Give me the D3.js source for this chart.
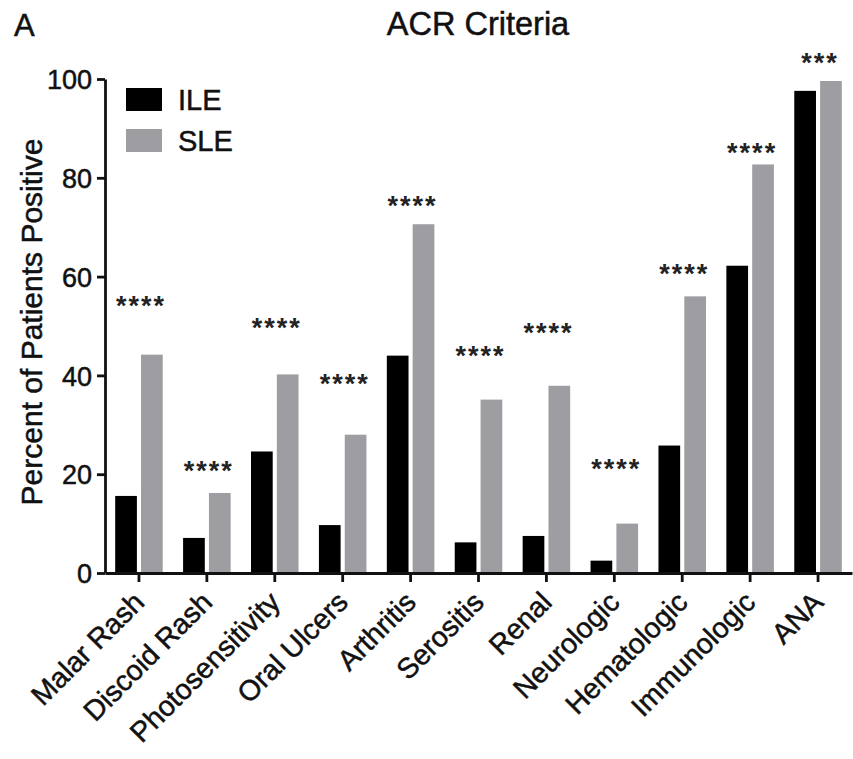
<!DOCTYPE html>
<html>
<head>
<meta charset="utf-8">
<script src="https://cdn.jsdelivr.net/npm/d3@7"></script>
<style>
  body { margin: 0; background: #fff; }
  svg text { font-family: "Liberation Sans", Arial, sans-serif; fill: #111; stroke: #111; stroke-width: 0.5px; }
</style>
</head>
<body>
<div id="chart"></div>
<script>
// chart data
var categories = ["Malar Rash", "Discoid Rash", "Photosensitivity", "Oral Ulcers", "Arthritis",
  "Serositis", "Renal", "Neurologic", "Hematologic", "Immunologic", "ANA"];
var ileValues = [15.6, 7.1, 24.6, 9.7, 44.0, 6.2, 7.5, 2.5, 25.8, 62.2, 97.6];
var sleValues = [44.2, 16.2, 40.2, 28.0, 70.6, 35.1, 37.9, 10.0, 56.0, 82.7, 99.6];
var sigLabels = ["****", "****", "****", "****", "****", "****", "****", "****", "****", "****", "***"];
var sigLevels = [55.3, 21.9, 50.8, 39.5, 75.5, 45.1, 49.8, 22.3, 61.7, 86.2, 104.5];
var yTicks = [0, 20, 40, 60, 80, 100];
var seriesNames = ["ILE", "SLE"];
var seriesColors = ["#000000", "#9e9ea2"];

(function () {
  'use strict'

  var W = 853, H = 759;
  var margin = {top: 79, right: 1, bottom: 186, left: 105};
  var width = W - margin.left - margin.right;
  var height = H - margin.top - margin.bottom;

  var svg = d3.select("#chart").append("svg")
    .attr("width", W)
    .attr("height", H);

  var g = svg.append("g")
    .attr("transform", "translate(" + margin.left + "," + margin.top + ")");

  var x = d3.scaleBand().domain(categories).range([0, width]).paddingInner(0.3).paddingOuter(0.15);
  var xSub = d3.scaleBand().domain(seriesNames).range([0, x.bandwidth()]).paddingInner(0.16);
  var y = d3.scaleLinear().domain([0, 100]).range([height, 0]);

  var rows = categories.map(function (c, i) {
    return {label: c, vals: [ileValues[i], sleValues[i]], sig: sigLabels[i], lvl: sigLevels[i]};
  });

  // bars
  var grp = g.selectAll(".catG")
    .data(rows)
    .enter().append("g")
    .attr("class", "catG")
    .attr("transform", function (d) { return "translate(" + x(d.label) + ",0)"; });

  grp.selectAll("rect")
    .data(function (d) { return d.vals.map(function (v, k) { return {s: seriesNames[k], v: v, k: k}; }); })
    .enter().append("rect")
    .attr("x", function (d) { return xSub(d.s); })
    .attr("width", xSub.bandwidth())
    .attr("y", function (d) { return y(d.v); })
    .attr("height", function (d) { return height - y(d.v); })
    .attr("fill", function (d) { return seriesColors[d.k]; });

  // significance stars
  g.selectAll(".sigTxt")
    .data(rows)
    .enter().append("text")
    .attr("class", "sigTxt")
    .attr("x", function (d) { return x(d.label) + x.bandwidth() / 2 + 2; })
    .attr("y", function (d) { return y(d.lvl) + 15; })
    .attr("text-anchor", "middle")
    .attr("font-size", "27px")
    .attr("font-weight", "bold")
    .attr("letter-spacing", "2px")
    .style("fill", "#222")
    .style("stroke", "none")
    .text(function (d) { return d.sig; });

  // y axis
  var yAxis = g.append("g")
    .attr("class", "yAxis")
    .call(d3.axisLeft(y).tickValues(yTicks).tickSize(8).tickPadding(5).tickSizeOuter(0));
  yAxis.selectAll("text").attr("font-size", "27px").attr("dy", "0.36em")
    .style("font-family", "Liberation Sans, Arial, sans-serif");

  // x axis
  var xAxis = g.append("g")
    .attr("class", "xAxis")
    .attr("transform", "translate(0," + height + ")")
    .call(d3.axisBottom(x).tickSize(9).tickSizeOuter(0));
  xAxis.selectAll(".tick text")
    .attr("font-size", "28.5px")
    .style("font-family", "Liberation Sans, Arial, sans-serif")
    .attr("text-anchor", "end")
    .attr("dy", null)
    .attr("y", 0)
    .attr("x", 0)
    .attr("transform", "translate(7,31) rotate(-45)");

  svg.selectAll(".domain, .tick line").attr("stroke", "#111").attr("stroke-width", 2.8);

  // y label
  svg.append("text")
    .attr("transform", "translate(42," + 322 + ") rotate(-90)")
    .attr("text-anchor", "middle")
    .attr("font-size", "30px")
    .text("Percent of Patients Positive");

  // title and panel letter
  svg.append("text")
    .attr("x", 478).attr("y", 35)
    .attr("text-anchor", "middle")
    .attr("font-size", "32.5px")
    .text("ACR Criteria");
  svg.append("text")
    .attr("x", 14).attr("y", 36)
    .attr("font-size", "31px")
    .text("A");

  // legend
  var leg = svg.append("g").attr("transform", "translate(126,88)");
  var legItem = leg.selectAll(".legItem")
    .data(seriesNames)
    .enter().append("g")
    .attr("class", "legItem")
    .attr("transform", function (d, i) { return "translate(0," + (i * 41) + ")"; });
  legItem.append("rect")
    .attr("width", 36).attr("height", 23)
    .attr("fill", function (d, i) { return seriesColors[i]; });
  legItem.append("text")
    .attr("x", 52).attr("y", 22)
    .attr("font-size", "29px")
    .text(function (d) { return d; });
})()
</script>
</body>
</html>
